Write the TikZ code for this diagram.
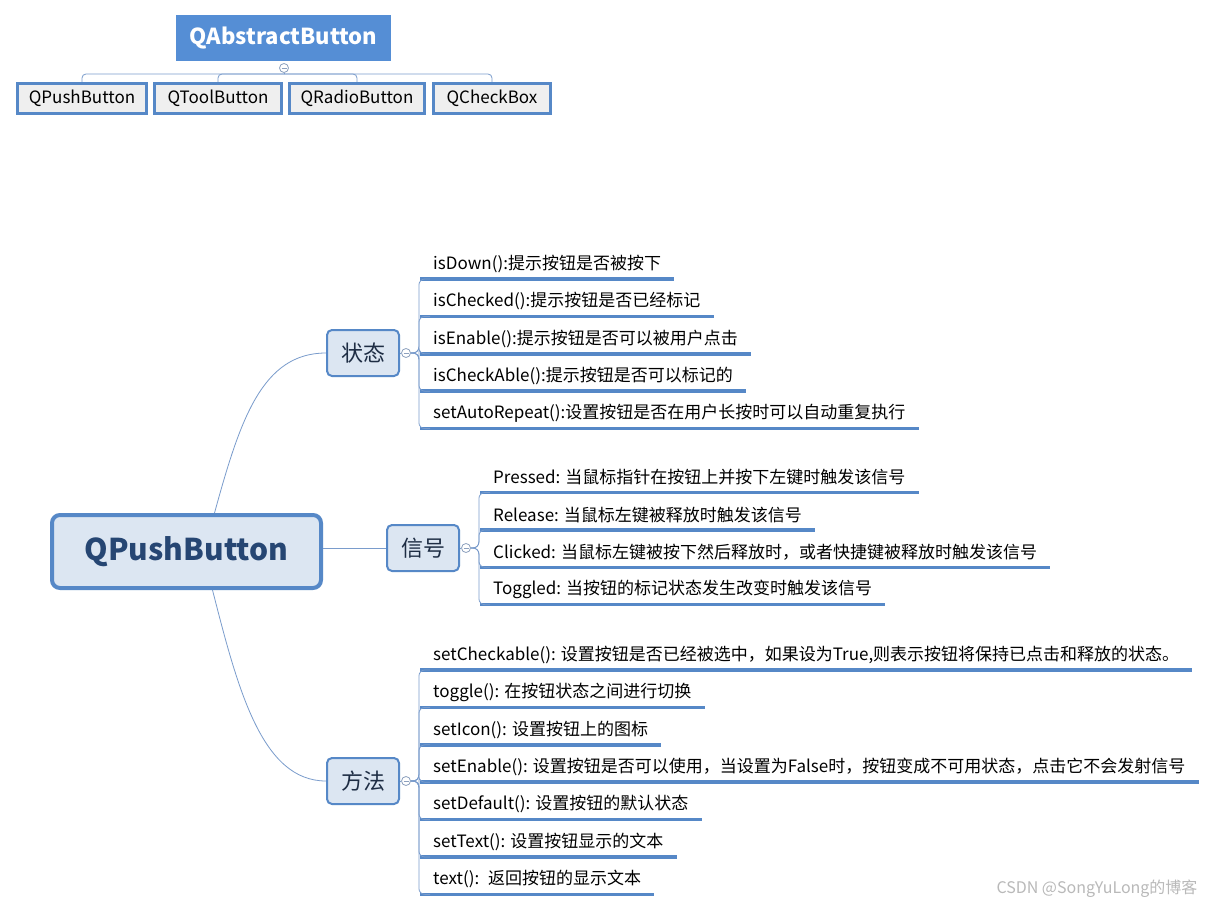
\documentclass[tikz,border=0pt]{standalone}
\usepackage{fontspec}
\setmainfont{Noto Sans CJK SC}
\usetikzlibrary{positioning}
\definecolor{HeadBlue}{RGB}{85,142,213}
\definecolor{EdgeBlue}{RGB}{86,136,199}
\definecolor{PaleBlue}{RGB}{220,230,242}
\definecolor{PaleGray}{RGB}{239,239,239}
\definecolor{InkBlue}{RGB}{38,70,115}
\definecolor{DarkInk}{RGB}{30,45,68}
\definecolor{LineBlue}{RGB}{122,156,204}
\definecolor{FoldGray}{RGB}{140,160,190}
\tikzset{
  rootbox/.style={fill=HeadBlue,text=white,font=\fontsize{22}{25}\selectfont\bfseries,
    minimum width=215pt,minimum height=46pt,inner sep=0pt},
  classbox/.style={draw=EdgeBlue,line width=3pt,fill=PaleGray,
    font=\fontsize{17}{20}\selectfont,minimum height=30pt,inner sep=0pt},
  centre/.style={draw=EdgeBlue,line width=4pt,rounded corners=8pt,fill=PaleBlue,
    text=InkBlue,font=\fontsize{30}{35}\selectfont\bfseries,
    minimum width=269pt,minimum height=73pt},
  topic/.style={draw=EdgeBlue,line width=2pt,rounded corners=5pt,fill=PaleBlue,
    text=DarkInk,font=\fontsize{22}{25}\selectfont,
    minimum width=72pt,minimum height=46pt,inner sep=0pt},
  fold/.style={circle,draw=FoldGray,fill=white,line width=0.8pt,minimum size=9pt,
    inner sep=0pt,path picture={\draw[FoldGray,line width=0.8pt]
      ([xshift=2pt]path picture bounding box.west) --
      ([xshift=-2pt]path picture bounding box.east);}},
  underline/.style={draw=EdgeBlue,line width=3.5pt},
  leaf/.style={anchor=south west,inner xsep=13pt,inner ysep=0pt,minimum height=30pt,
    font=\fontsize{17}{20}\selectfont,
    append after command={(\tikzlastnode.south west) edge[underline]
      (\tikzlastnode.south east)}},
  link/.style={draw=LineBlue,line width=0.8pt}
}
\begin{document}
\begin{tikzpicture}[x=1pt,y=-1pt]
\fill[white] (0,0) rectangle (1215,909);
\useasboundingbox (0,0) rectangle (1215,909);

\node[rootbox] (ab) at (283.5,38) {QAbstractButton};
\node[fold] (d0) at (284,68) {};
\node[classbox,minimum width=129pt] (pb) at (82,98.5) {QPushButton};
\node[classbox,minimum width=127pt,right=5pt of pb] (tb) {QToolButton};
\node[classbox,minimum width=135pt,right=5pt of tb] (rb) {QRadioButton};
\node[classbox,minimum width=117pt,right=6pt of rb] (cb) {QCheckBox};
\coordinate (hub) at (284,74);
\draw[link] (d0.south) -- (hub);
\foreach \n in {pb,tb,rb,cb}
  \draw[link,rounded corners=4pt] (hub) -| (\n.north);

\node[centre] (qp) at (186.5,551.5) {QPushButton};
\node[topic] (st) at (363,353) {状态};
\node[topic] (sg) at (423,548) {信号};
\node[topic] (ff) at (363,781) {方法};
\node[fold] (d1) at (406,353) {};
\node[fold] (d2) at (466,548) {};
\node[fold] (d3) at (406,781) {};
\draw[link] (st.east) -- (d1.west);
\draw[link] (sg.east) -- (d2.west);
\draw[link] (ff.east) -- (d3.west);

\draw[link] ([xshift=28pt]qp.north) .. controls (240,420) and (262,353) .. (st.west);
\draw[link] (sg.west) -- (sg.west -| qp.east);
\draw[link] ([xshift=26pt]qp.south) .. controls (238,690) and (262,781) .. (ff.west);

\node[leaf] (s1) at (420,279) {isDown():提示按钮是否被按下};
\node[leaf,below=7pt of s1.south west,anchor=north west] (s2) {isChecked():提示按钮是否已经标记};
\node[leaf,below=7pt of s2.south west,anchor=north west] (s3) {isEnable():提示按钮是否可以被用户点击};
\node[leaf,below=7pt of s3.south west,anchor=north west] (s4) {isCheckAble():提示按钮是否可以标记的};
\node[leaf,below=7pt of s4.south west,anchor=north west] (s5) {setAutoRepeat():设置按钮是否在用户长按时可以自动重复执行};

\node[leaf] (g1) at (480,492.5) {Pressed: 当鼠标指针在按钮上并按下左键时触发该信号};
\node[leaf,below=7pt of g1.south west,anchor=north west] (g2) {Release: 当鼠标左键被释放时触发该信号};
\node[leaf,below=7pt of g2.south west,anchor=north west] (g3) {Clicked: 当鼠标左键被按下然后释放时，或者快捷键被释放时触发该信号};
\node[leaf,below=7pt of g3.south west,anchor=north west] (g4) {Toggled: 当按钮的标记状态发生改变时触发该信号};

\node[leaf] (f1) at (420,670) {setCheckable(): 设置按钮是否已经被选中，如果设为True,则表示按钮将保持已点击和释放的状态。};
\node[leaf,below=7pt of f1.south west,anchor=north west] (f2) {toggle(): 在按钮状态之间进行切换};
\node[leaf,below=7pt of f2.south west,anchor=north west] (f3) {setIcon(): 设置按钮上的图标};
\node[leaf,below=7pt of f3.south west,anchor=north west] (f4) {setEnable(): 设置按钮是否可以使用，当设置为False时，按钮变成不可用状态，点击它不会发射信号};
\node[leaf,below=7pt of f4.south west,anchor=north west] (f5) {setDefault(): 设置按钮的默认状态};
\node[leaf,below=7pt of f5.south west,anchor=north west] (f6) {setText(): 设置按钮显示的文本};
\node[leaf,below=7pt of f6.south west,anchor=north west] (f7) {text():~ 返回按钮的显示文本};

\foreach \n in {s1,s2,s3,s4,s5}
  \draw[link,rounded corners=6pt] (d1.east) -- ++(8,0) |- ([xshift=10pt]\n.south west);
\foreach \n in {g1,g2,g3,g4}
  \draw[link,rounded corners=6pt] (d2.east) -- ++(8,0) |- ([xshift=10pt]\n.south west);
\foreach \n in {f1,f2,f3,f4,f5,f6,f7}
  \draw[link,rounded corners=6pt] (d3.east) -- ++(8,0) |- ([xshift=10pt]\n.south west);

\node[text=gray!55,font=\fontsize{16}{18}\selectfont,anchor=east] (wm) at (1201,889) {CSDN @SongYuLong的博客};
\end{tikzpicture}
\end{document}
